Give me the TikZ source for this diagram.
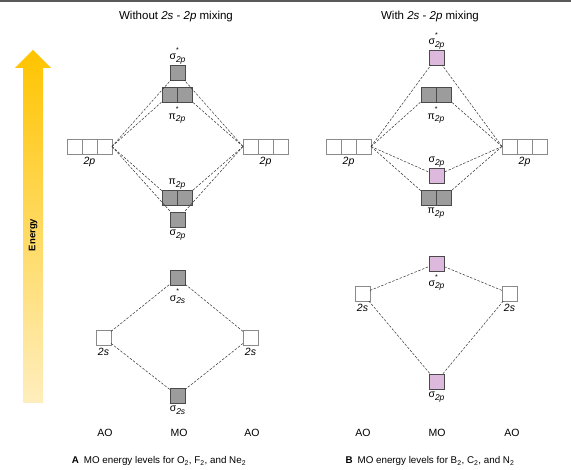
\documentclass[tikz,border=0pt]{standalone}
\usepackage{fontspec}
\setmainfont{Liberation Sans}
\usetikzlibrary{positioning}
\definecolor{mogray}{HTML}{9C9C9C}
\definecolor{mopink}{HTML}{DDBADD}
\definecolor{boxline}{HTML}{4A4A4A}
\definecolor{cellline}{HTML}{8A8A8A}
\definecolor{enTop}{HTML}{FFC400}
\definecolor{enBot}{HTML}{FFEEBE}
\newcommand{\mosub}[1]{\raisebox{-0.45ex}{\fontsize{8.5}{9}\selectfont\itshape #1}}
\newcommand{\mostar}[2]{#1\rlap{\raisebox{1.35ex}{\fontsize{7}{7}\selectfont *}}\mosub{#2}}
\newcommand{\moplain}[2]{#1\mosub{#2}}

\begin{document}
\begin{tikzpicture}[
  x=1pt, y=-1pt,
  font=\fontsize{10.5}{12}\selectfont,
  orb/.style={draw=boxline, line width=0.6pt, minimum width=15pt, minimum height=15pt, inner sep=0pt, outer sep=0pt},
  occ/.style={orb, fill=mogray},
  mix/.style={orb, fill=mopink},
  emp/.style={orb, fill=white, draw=cellline},
  lbl/.style={inner sep=1pt},
  link/.style={dash pattern=on 2.5pt off 1.5pt, line width=0.5pt, draw=black!80}
]
\useasboundingbox (0,0) rectangle (571,470);
\fill[black!65] (0,0) rectangle (571,2);

% energy axis
\shade[top color=enTop, bottom color=enBot] (23,403) -- (23,68) -- (15,68) -- (33,50) -- (51,68) -- (43,68) -- (43,403) -- cycle;
\node[rotate=90, font=\bfseries\fontsize{9.5}{10}\selectfont] (energy) at (33,235) {Energy};

% A: without mixing
\node[font=\fontsize{11.5}{12}\selectfont] (Atitle) at (176,17) {Without \textit{2s} - \textit{2p} mixing};
\node[emp] (A2pL1) at (74.5,146.5) {};
\node[emp, right=0pt of A2pL1] (A2pL2) {};
\node[emp, right=0pt of A2pL2] (A2pL3) {};
\node[emp] (A2pR1) at (250.5,146.5) {};
\node[emp, right=0pt of A2pR1] (A2pR2) {};
\node[emp, right=0pt of A2pR2] (A2pR3) {};
\node[lbl, below=2pt of A2pL2] {\textit{2p}};
\node[lbl, below=2pt of A2pR2] {\textit{2p}};
\node[occ] (AsigS) at (177.5,72.5) {};
\node[occ] (ApiSa) at (169.5,95) {};
\node[occ, right=0pt of ApiSa] (ApiSb) {};
\node[occ] (Apia) at (169.5,197.5) {};
\node[occ, right=0pt of Apia] (Apib) {};
\node[occ] (Asig) at (177.5,219.5) {};
\node[lbl, above=0pt of AsigS] {\mostar{σ}{2p}};
\node[lbl, below=3pt of ApiSa.south east] {\mostar{π}{2p}};
\node[lbl, above=0pt of Apia.north east] {\moplain{π}{2p}};
\node[lbl, below=2pt of Asig] {\moplain{σ}{2p}};
\foreach \l/\r in {AsigS/AsigS, ApiSa/ApiSb, Apia/Apib, Asig/Asig} {
  \draw[link] (A2pL3.east) -- (\l);
  \draw[link] (A2pR1.west) -- (\r);
}
\node[emp] (A2sL) at (103.5,337.5) {};
\node[emp] (A2sR) at (250.5,337.5) {};
\node[lbl, below=2pt of A2sL] {\textit{2s}};
\node[lbl, below=2pt of A2sR] {\textit{2s}};
\node[occ] (AsigSs) at (177.5,278) {};
\node[occ] (Asigs) at (177.5,395.5) {};
\node[lbl, below=2pt of AsigSs] {\mostar{σ}{2s}};
\node[lbl, below=2pt of Asigs] {\moplain{σ}{2s}};
\foreach \m in {AsigSs, Asigs} {
  \draw[link] (A2sL) -- (\m);
  \draw[link] (A2sR) -- (\m);
}
\node (AaoL) at (105,433) {AO};
\node (Amo) at (179,433) {MO};
\node (AaoR) at (252,433) {AO};
\node[font=\fontsize{9.8}{12}\selectfont] (Acap) at (159,461) {\textbf{A}\enspace MO energy levels for O\textsubscript{2}, F\textsubscript{2}, and Ne\textsubscript{2}};

% B: with mixing
\node[font=\fontsize{11.5}{12}\selectfont] (Btitle) at (430,17) {With \textit{2s} - \textit{2p} mixing};
\node[emp] (B2pL1) at (333.5,146.5) {};
\node[emp, right=0pt of B2pL1] (B2pL2) {};
\node[emp, right=0pt of B2pL2] (B2pL3) {};
\node[emp] (B2pR1) at (509.5,146.5) {};
\node[emp, right=0pt of B2pR1] (B2pR2) {};
\node[emp, right=0pt of B2pR2] (B2pR3) {};
\node[lbl, below=2pt of B2pL2] {\textit{2p}};
\node[lbl, below=2pt of B2pR2] {\textit{2p}};
\node[mix] (BsigS) at (436.5,57.5) {};
\node[occ] (BpiSa) at (428.5,95) {};
\node[occ, right=0pt of BpiSa] (BpiSb) {};
\node[mix] (Bsig) at (436.5,175.5) {};
\node[occ] (Bpia) at (428.5,197.5) {};
\node[occ, right=0pt of Bpia] (Bpib) {};
\node[lbl, above=0pt of BsigS] {\mostar{σ}{2p}};
\node[lbl, below=3pt of BpiSa.south east] {\mostar{π}{2p}};
\node[lbl, above=0pt of Bsig] {\moplain{σ}{2p}};
\node[lbl, below=2pt of Bpia.south east] {\moplain{π}{2p}};
\foreach \l/\r in {BsigS/BsigS, BpiSa/BpiSb, Bsig/Bsig, Bpia/Bpib} {
  \draw[link] (B2pL3.east) -- (\l);
  \draw[link] (B2pR1.west) -- (\r);
}
\node[emp] (B2sL) at (362.5,293.5) {};
\node[emp] (B2sR) at (509.5,293.5) {};
\node[lbl, below=2pt of B2sL] {\textit{2s}};
\node[lbl, below=2pt of B2sR] {\textit{2s}};
\node[mix] (BsigSs) at (436.5,263.5) {};
\node[mix] (Bsigs) at (436.5,381.5) {};
\node[lbl, below=2pt of BsigSs] {\mostar{σ}{2p}};
\node[lbl, below=2pt of Bsigs] {\moplain{σ}{2p}};
\foreach \m in {BsigSs, Bsigs} {
  \draw[link] (B2sL) -- (\m);
  \draw[link] (B2sR) -- (\m);
}
\node (BaoL) at (363,433) {AO};
\node (Bmo) at (437,433) {MO};
\node (BaoR) at (512,433) {AO};
\node[font=\fontsize{9.8}{12}\selectfont] (Bcap) at (430,461) {\textbf{B}\enspace MO energy levels for B\textsubscript{2}, C\textsubscript{2}, and N\textsubscript{2}};
\end{tikzpicture}
\end{document}
